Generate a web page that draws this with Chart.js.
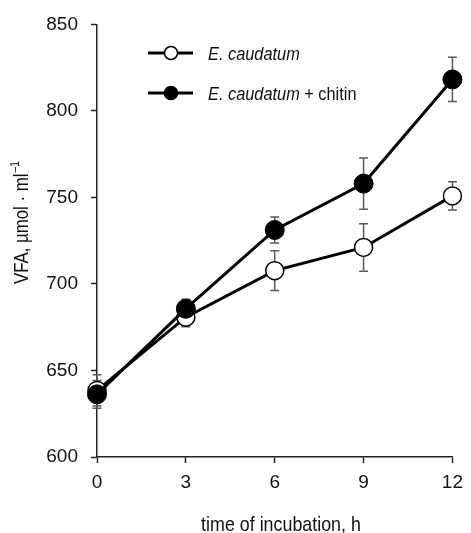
<!DOCTYPE html>
<html>
<head>
<meta charset="utf-8">
<script src="https://cdn.jsdelivr.net/npm/chart.js@4.4.1/dist/chart.umd.min.js"></script>
<style>
  html, body { margin: 0; padding: 0; background: #fff; }
  #wrap { width: 471px; height: 533px; position: relative; }
</style>
</head>
<body>
<div id="wrap"><canvas id="vfaChart"></canvas></div>
<script>
/* ============================================
   DATA
============================================ */

const hours = [0, 3, 6, 9, 12];
const hourTicks = [0, 3, 6, 9, 12];
const vfaTicks = [600, 650, 700, 750, 800, 850];

// E. caudatum
const caudatum = [638.5, 680.8, 707.7, 721.1, 750.9];
const caudatumErr = [9, 5.5, 11.5, 13.7, 8.2];

// E. caudatum + chitin
const chitin = [636.2, 685.7, 731.2, 758.0, 818.2];
const chitinErr = [8, 5.5, 7.5, 14.8, 12.8];

const seriesNames = ["E. caudatum", "E. caudatum"];
const seriesSuffix = ["", " + chitin"];

const FONT = "'Liberation Sans', Arial, sans-serif";

/* ============================================
   Error bars (drawn under the markers)
============================================ */

const errorBars = {
    id: "errorBars",
    beforeDatasetsDraw(chart) {
        const ctx = chart.ctx;
        const x = chart.scales.x;
        const y = chart.scales.y;

        chart.data.datasets.forEach(ds => {
            ds.values.forEach((v, i) => {
                const px = x.getPixelForValue(hours[i]);
                const top = y.getPixelForValue(v + ds.errors[i]);
                const bot = y.getPixelForValue(v - ds.errors[i]);
                ctx.save();
                ctx.strokeStyle = "#5a5a5a";
                ctx.lineWidth = 1.5;
                ctx.beginPath();
                ctx.moveTo(px, top);
                ctx.lineTo(px, bot);
                ctx.moveTo(px - 4.5, top);
                ctx.lineTo(px + 4.5, top);
                ctx.moveTo(px - 4.5, bot);
                ctx.lineTo(px + 4.5, bot);
                ctx.stroke();
                ctx.restore();
            });
        });
    }
};

/* ============================================
   Axis titles + legend (condensed, mixed italic)
============================================ */

// the original uses a narrow face, so squeeze the text horizontally
function squeezedText(ctx, text, x, y, sx) {
    ctx.save();
    ctx.translate(x, y);
    ctx.scale(sx, 1);
    ctx.fillText(text, 0, 0);
    ctx.restore();
    return ctx.measureText(text).width * sx;
}

const labelsPlugin = {
    id: "labelsPlugin",
    afterDraw(chart) {
        const ctx = chart.ctx;
        const area = chart.chartArea;
        ctx.save();
        ctx.fillStyle = "#111";
        ctx.textBaseline = "alphabetic";
        ctx.textAlign = "left";

        // x title
        ctx.font = "21px " + FONT;
        const xt = "time of incubation, h";
        const xw = ctx.measureText(xt).width * 0.85;
        squeezedText(ctx, xt, 281 - xw / 2, 531, 0.85);

        // y title with superscript
        const main = "VFA, µmol · ml";
        const sup = "–1";
        ctx.font = "21px " + FONT;
        const wMain = ctx.measureText(main).width * 0.8;
        ctx.font = "13px " + FONT;
        const wSup = ctx.measureText(sup).width * 0.8;
        ctx.save();
        ctx.translate(28, 223);
        ctx.rotate(-Math.PI / 2);
        const start = -(wMain + wSup) / 2;
        ctx.font = "21px " + FONT;
        squeezedText(ctx, main, start, 0, 0.8);
        ctx.font = "13px " + FONT;
        squeezedText(ctx, sup, start + wMain + 1, -9, 0.8);
        ctx.restore();

        // legend
        const rows = [53, 93];
        chart.data.datasets.forEach((ds, i) => {
            const ly = rows[i];
            ctx.strokeStyle = "#000";
            ctx.lineWidth = 3;
            ctx.beginPath();
            ctx.moveTo(148, ly);
            ctx.lineTo(193, ly);
            ctx.stroke();

            ctx.beginPath();
            ctx.arc(171, ly, 6.5, 0, Math.PI * 2);
            ctx.fillStyle = ds.pointBackgroundColor;
            ctx.fill();
            ctx.lineWidth = 1.5;
            ctx.stroke();

            ctx.fillStyle = "#111";
            ctx.font = "italic 19px " + FONT;
            const w = squeezedText(ctx, seriesNames[i], 208, ly + 7, 0.86);
            ctx.font = "19px " + FONT;
            squeezedText(ctx, seriesSuffix[i], 208 + w, ly + 7, 0.86);
        });

        ctx.restore();
    }
};

/* ============================================
   Chart
============================================ */

const tickFont = { family: FONT, size: 19 };

new Chart(document.getElementById("vfaChart"), {
    type: "line",
    data: {
        labels: hours,
        datasets: [
            {
                label: "E. caudatum",
                data: hours.map((h, i) => ({ x: h, y: caudatum[i] })),
                values: caudatum,
                errors: caudatumErr,
                borderColor: "#000",
                borderWidth: 3,
                pointRadius: 9,
                pointBorderWidth: 1.5,
                pointBackgroundColor: "#fff",
                pointBorderColor: "#000",
                tension: 0,
                clip: false,
                order: 2
            },
            {
                label: "E. caudatum + chitin",
                data: hours.map((h, i) => ({ x: h, y: chitin[i] })),
                values: chitin,
                errors: chitinErr,
                borderColor: "#000",
                borderWidth: 3,
                pointRadius: 9.5,
                pointBorderWidth: 1,
                pointBackgroundColor: "#000",
                pointBorderColor: "#000",
                tension: 0,
                clip: false,
                order: 1
            }
        ]
    },
    options: {
        responsive: true,
        maintainAspectRatio: false,
        animation: false,
        layout: { padding: { top: 23, right: 12, bottom: 0, left: 0 } },
        plugins: {
            legend: { display: false },
            tooltip: { enabled: false }
        },
        scales: {
            x: {
                type: "linear",
                min: 0,
                max: 12,
                afterBuildTicks: s => { s.ticks = hourTicks.map(v => ({ value: v })); },
                afterFit: s => { s.height = 76; },
                ticks: { padding: 8, color: "#111", font: tickFont },
                grid: { drawOnChartArea: false, tickLength: 6, tickColor: "#222", tickWidth: 1.5 },
                border: { color: "#222", width: 1.5 }
            },
            y: {
                min: 600,
                max: 850,
                afterBuildTicks: s => { s.ticks = vfaTicks.map(v => ({ value: v })); },
                afterFit: s => { s.width = 97; },
                ticks: { padding: 13, color: "#111", font: tickFont },
                grid: { drawOnChartArea: false, tickLength: 6, tickColor: "#222", tickWidth: 1.5 },
                border: { color: "#222", width: 1.5 }
            }
        }
    },
    plugins: [errorBars, labelsPlugin]
});
</script>
</body>
</html>
